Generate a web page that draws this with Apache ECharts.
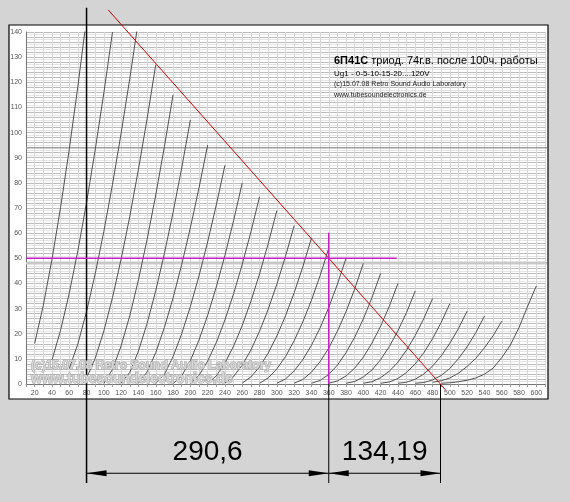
<!DOCTYPE html>
<html>
<head>
<meta charset="utf-8">
<script src="https://cdn.jsdelivr.net/npm/echarts@6/dist/echarts.min.js"></script>
<style>
  html, body { margin: 0; padding: 0; background: #d4d4d4; }
  #chart { width: 570px; height: 502px; }
</style>
</head>
<body>
<div id="chart"></div>
<script>
// 6П41С triode, anode curves Ia(Ua), one curve per grid voltage
const gridVolts = [0, -5, -10, -15, -20, -25, -30, -35, -40, -45, -50, -55, -60,
  -65, -70, -75, -80, -85, -90, -95, -100, -105, -110, -115, -120];
// first anode voltage of every curve, points follow every 10 V
const curveStartUa = [20, 40, 60, 80, 100, 120, 140, 160, 180, 200, 220, 240, 260,
  280, 300, 320, 340, 360, 380, 400, 420, 440, 460, 480, 490];
const uaStep = 10;
// anode current, mA
const curveIa = [
  [16.1, 31.3, 49.5, 70.3, 93.3, 118.5, 145.6],
  [9.5, 21.4, 36.1, 53.1, 72.2, 93.1, 115.8, 140.0],
  [6.1, 16.0, 28.8, 43.8, 60.7, 79.4, 99.8, 121.5, 144.7],
  [2.3, 10.2, 21.1, 34.4, 49.7, 66.7, 85.4, 105.5, 127.0],
  [0.2, 5.8, 15.2, 27.2, 41.4, 57.5, 75.2, 94.4, 115.0],
  [0.4, 4.6, 13.1, 24.1, 37.1, 51.9, 68.2, 85.9, 105.0],
  [0.3, 4.8, 12.5, 22.5, 34.2, 47.5, 62.1, 78.0, 95.0],
  [0.2, 3.8, 10.9, 20.0, 30.8, 43.0, 56.5, 71.2, 87.0],
  [0.2, 3.2, 9.3, 17.5, 27.3, 38.6, 51.2, 65.0, 80.0],
  [0.3, 3.4, 9.1, 16.5, 25.5, 35.9, 47.6, 60.5, 74.5],
  [0.3, 3.2, 8.3, 15.1, 23.3, 32.9, 43.8, 55.8, 69.0],
  [0.4, 3.0, 7.5, 13.5, 21.0, 29.7, 39.7, 50.8, 63.0],
  [0.4, 2.8, 6.8, 12.3, 19.1, 27.1, 36.3, 46.6, 58.0],
  [0.3, 2.4, 6.0, 10.9, 17.2, 24.7, 33.3, 43.1, 54.0],
  [0.3, 2.0, 5.2, 9.7, 15.4, 22.3, 30.4, 39.7, 50.0],
  [0.3, 1.8, 4.7, 8.9, 14.3, 21.0, 28.8, 37.8, 48.0],
  [0.3, 1.4, 3.8, 7.5, 12.5, 18.6, 25.9, 34.4, 44.0],
  [0.3, 1.2, 3.2, 6.3, 10.7, 16.3, 23.0, 30.9, 40.0],
  [0.3, 1.0, 2.8, 5.6, 9.7, 14.9, 21.2, 28.5, 37.0],
  [0.3, 0.9, 2.5, 5.1, 8.7, 13.5, 19.3, 26.1, 34.0],
  [0.3, 0.8, 2.2, 4.6, 8.0, 12.5, 18.0, 24.5, 32.0],
  [0.3, 0.7, 1.9, 4.0, 7.1, 11.2, 16.2, 22.1, 29.0],
  [0.3, 0.6, 1.6, 3.4, 6.2, 10.1, 14.8, 20.4, 27.0],
  [0.7, 1.3, 2.4, 4.3, 7.0, 10.2, 14.4, 19.2, 25.0],
  [0.3, 0.5, 0.9, 1.5, 2.4, 3.9, 6.3, 10.5, 15.5, 22.5, 31.0, 39.0]
];

// load line and working point (Ua, Ia)
const loadLine = [[105, 148.8], [495, -2.3]];
const workHoriz = [[10, 50], [438.5, 50]];
const workVert = [[360, 0], [360, 60.2]];
// stray horizontal lines on the scan
const strayLines = [[[10, 94], [613, 94]], [[10, 48], [613, 48]]];
// dimension annotation below the chart
const dimUa = [80, 360, 489.2];
const dimLevel = -35.5;
const dimBottom = -39.4;
const dimTop = [149.6, 0, 0];
const dimLabels = ['290,6', '134,19'];

const chart = echarts.init(document.getElementById('chart'));

const curveSeries = curveIa.map((vals, i) => ({
  name: 'Ug ' + gridVolts[i],
  type: 'line',
  symbol: 'none',
  clip: true,
  silent: true,
  z: 3,
  lineStyle: { color: '#505050', width: 1 },
  data: vals.map((v, j) => [curveStartUa[i] + uaStep * j, v])
}));

const plainLine = (data, color, width, z) => ({
  type: 'line',
  symbol: 'none',
  clip: false,
  silent: true,
  z: z,
  lineStyle: { color: color, width: width },
  data: data
});

const extraSeries = [
  plainLine(strayLines[0], '#a0a0a0', 1.5, 2),
  plainLine(strayLines[1], '#c8c8c8', 2.5, 2),
  plainLine(loadLine, '#d00000', 1, 5),
  plainLine(workHoriz, '#c81ec8', 1.5, 6),
  plainLine(workVert, '#c81ec8', 1.5, 6)
];
dimUa.forEach((ua, i) => {
  extraSeries.push(plainLine([[ua, dimTop[i]], [ua, dimBottom]], '#000', i === 0 ? 1.5 : 1, 4));
});

// dimension arrows and numbers
extraSeries.push({
  type: 'custom',
  clip: false,
  silent: true,
  z: 7,
  data: [[dimUa[0], dimUa[1], dimLevel], [dimUa[1], dimUa[2], dimLevel]],
  renderItem: (params, api) => {
    const a = api.coord([api.value(0), api.value(2)]);
    const b = api.coord([api.value(1), api.value(2)]);
    const al = 20, ah = 3;
    return {
      type: 'group',
      children: [
        { type: 'line', shape: { x1: a[0], y1: a[1], x2: b[0], y2: b[1] },
          style: { stroke: '#000', lineWidth: 1 } },
        { type: 'polygon', shape: { points: [[a[0], a[1]], [a[0] + al, a[1] - ah], [a[0] + al, a[1] + ah]] },
          style: { fill: '#000' } },
        { type: 'polygon', shape: { points: [[b[0], b[1]], [b[0] - al, b[1] - ah], [b[0] - al, b[1] + ah]] },
          style: { fill: '#000' } },
        { type: 'text', x: (a[0] + b[0]) / 2, y: a[1] - 7,
          style: { text: dimLabels[params.dataIndex], fill: '#000', fontSize: 28,
            fontFamily: 'Liberation Sans', align: 'center', verticalAlign: 'bottom' } }
      ]
    };
  }
});

const option = {
  backgroundColor: '#d4d4d4',
  animation: false,
  textStyle: { fontFamily: 'Liberation Sans' },
  graphic: [{
    type: 'rect', z: -1, silent: true,
    shape: { x: 9, y: 25, width: 539, height: 374 },
    style: { fill: '#fff', stroke: '#000', lineWidth: 1.2 }
  }],
  title: [
    { text: '{b|6П41С} триод. 74г.в. после 100ч. работы', left: 334, top: 55, padding: 0,
      textStyle: { fontSize: 11, fontWeight: 'normal', color: '#000',
        rich: { b: { fontSize: 11, fontWeight: 'bold', color: '#000' } } } },
    { text: 'Ug1 - 0-5-10-15-20....120V', left: 334, top: 70, padding: 0,
      textStyle: { fontSize: 8, fontWeight: 'normal', color: '#000' } },
    { text: '(c)15.07.08 Retro Sound Audio Laboratory', left: 334, top: 81, padding: 0,
      textStyle: { fontSize: 7, fontWeight: 'normal', color: '#222' } },
    { text: 'www.tubesoundelectronics.de', left: 334, top: 92, padding: 0,
      textStyle: { fontSize: 7, fontWeight: 'normal', color: '#222' } },
    { text: '(c)15.07.08 Retro Sound Audio Laboratory', left: 31, top: 360, padding: 0,
      textStyle: { fontSize: 12, fontWeight: 'bold', color: '#d6d6d6',
        textBorderColor: '#a4a4a4', textBorderWidth: 1 } },
    { text: 'www.tubesoundelectronics.de', left: 31, top: 372, padding: 0,
      textStyle: { fontSize: 14, fontWeight: 'bold', color: '#d6d6d6',
        textBorderColor: '#a4a4a4', textBorderWidth: 1 } }
  ],
  grid: { left: 26, top: 32, width: 519, height: 352, outerBoundsMode: 'none' },
  xAxis: {
    type: 'value', min: 10, max: 610, interval: 10,
    axisLine: { lineStyle: { color: '#777', width: 1 } },
    axisTick: { show: true, length: 3, lineStyle: { color: '#999' } },
    axisLabel: { fontSize: 7, color: '#555', margin: 6,
      formatter: v => (v % 20 === 0 && v >= 20 && v <= 600) ? String(v) : '' },
    splitLine: { show: true, lineStyle: { color: '#d8d8d8', width: 1 } }
  },
  yAxis: {
    type: 'value', min: 0, max: 140, interval: 2,
    axisLine: { show: true, lineStyle: { color: '#777', width: 1 } },
    axisTick: { show: false },
    axisLabel: { fontSize: 7, color: '#555', margin: 4,
      formatter: v => v % 10 === 0 ? String(v) : '' },
    splitLine: { show: true, lineStyle: { color: '#bcbcbc', width: 1 } },
    minorTick: { show: false, splitNumber: 2 },
    minorSplitLine: { show: true, lineStyle: { color: '#e6e6e6', width: 1 } }
  },
  series: curveSeries.concat(extraSeries)
};

chart.setOption(option);
</script>
</body>
</html>
